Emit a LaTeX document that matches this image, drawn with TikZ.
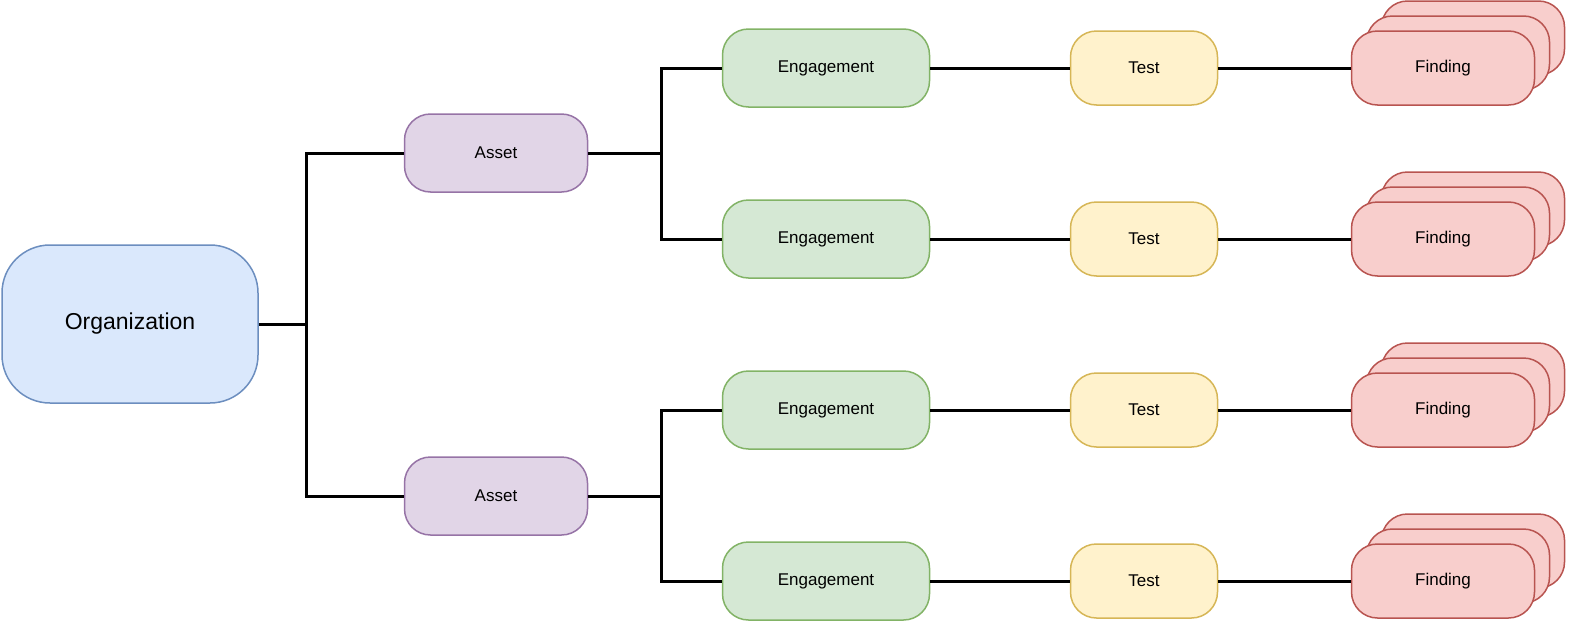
\documentclass[tikz,border=0pt]{standalone}
\usepackage{fontspec}
\setmainfont{Liberation Sans}
\begin{document}
\begin{tikzpicture}[x=1pt,y=-1pt,
  box/.style={draw,line width=1.5pt,rounded corners=26pt,font=\fontsize{17}{20}\selectfont,inner sep=0pt},
  org/.style={box,fill=orgf,draw=orgd,minimum width=256pt,minimum height=158pt,rounded corners=48pt,font=\fontsize{23}{27}\selectfont},
  asset/.style={box,fill=assf,draw=assd,minimum width=183pt,minimum height=78pt},
  eng/.style={box,fill=engf,draw=engd,minimum width=207pt,minimum height=78pt},
  tst/.style={box,fill=tstf,draw=tstd,minimum width=147pt,minimum height=74pt},
  fnd/.style={box,fill=fndf,draw=fndd,minimum width=183pt,minimum height=74pt},
  link/.style={line width=3pt}]
\definecolor{orgf}{HTML}{DAE8FC}\definecolor{orgd}{HTML}{6C8EBF}
\definecolor{assf}{HTML}{E1D5E7}\definecolor{assd}{HTML}{9673A6}
\definecolor{engf}{HTML}{D5E8D4}\definecolor{engd}{HTML}{82B366}
\definecolor{tstf}{HTML}{FFF2CC}\definecolor{tstd}{HTML}{D6B656}
\definecolor{fndf}{HTML}{F8CECC}\definecolor{fndd}{HTML}{B85450}
\useasboundingbox (0,0) rectangle (1570,624);
\node[org] (org) at (130,324) {Organization};
\node[asset] (a1) at (496,153) {Asset};
\node[asset] (a2) at (496,496) {Asset};
\foreach \i/\y/\a in {1/68/a1,2/239/a1,3/410/a2,4/581/a2}{
  \node[fnd] (f\i c) at (1473,\y-30) {};
  \node[fnd] (f\i b) at (1458,\y-15) {};
  \node[fnd] (f\i) at (1443,\y) {Finding};
  \node[eng] (e\i) at (826,\y) {Engagement};
  \node[tst] (t\i) at (1144,\y) {Test};
  \draw[link] (e\i) -- (t\i);
  \draw[link] (t\i) -- (f\i);
}
\draw[link] (org.east) -- ++(48,0) coordinate (j0);
\draw[link] (a1.west) -| (j0) |- (a2.west);
\draw[link] (a1.east) -- ++(73,0) coordinate (j1);
\draw[link] (e1.west) -| (j1) |- (e2.west);
\draw[link] (a2.east) -- ++(73,0) coordinate (j2);
\draw[link] (e3.west) -| (j2) |- (e4.west);
\end{tikzpicture}
\end{document}
